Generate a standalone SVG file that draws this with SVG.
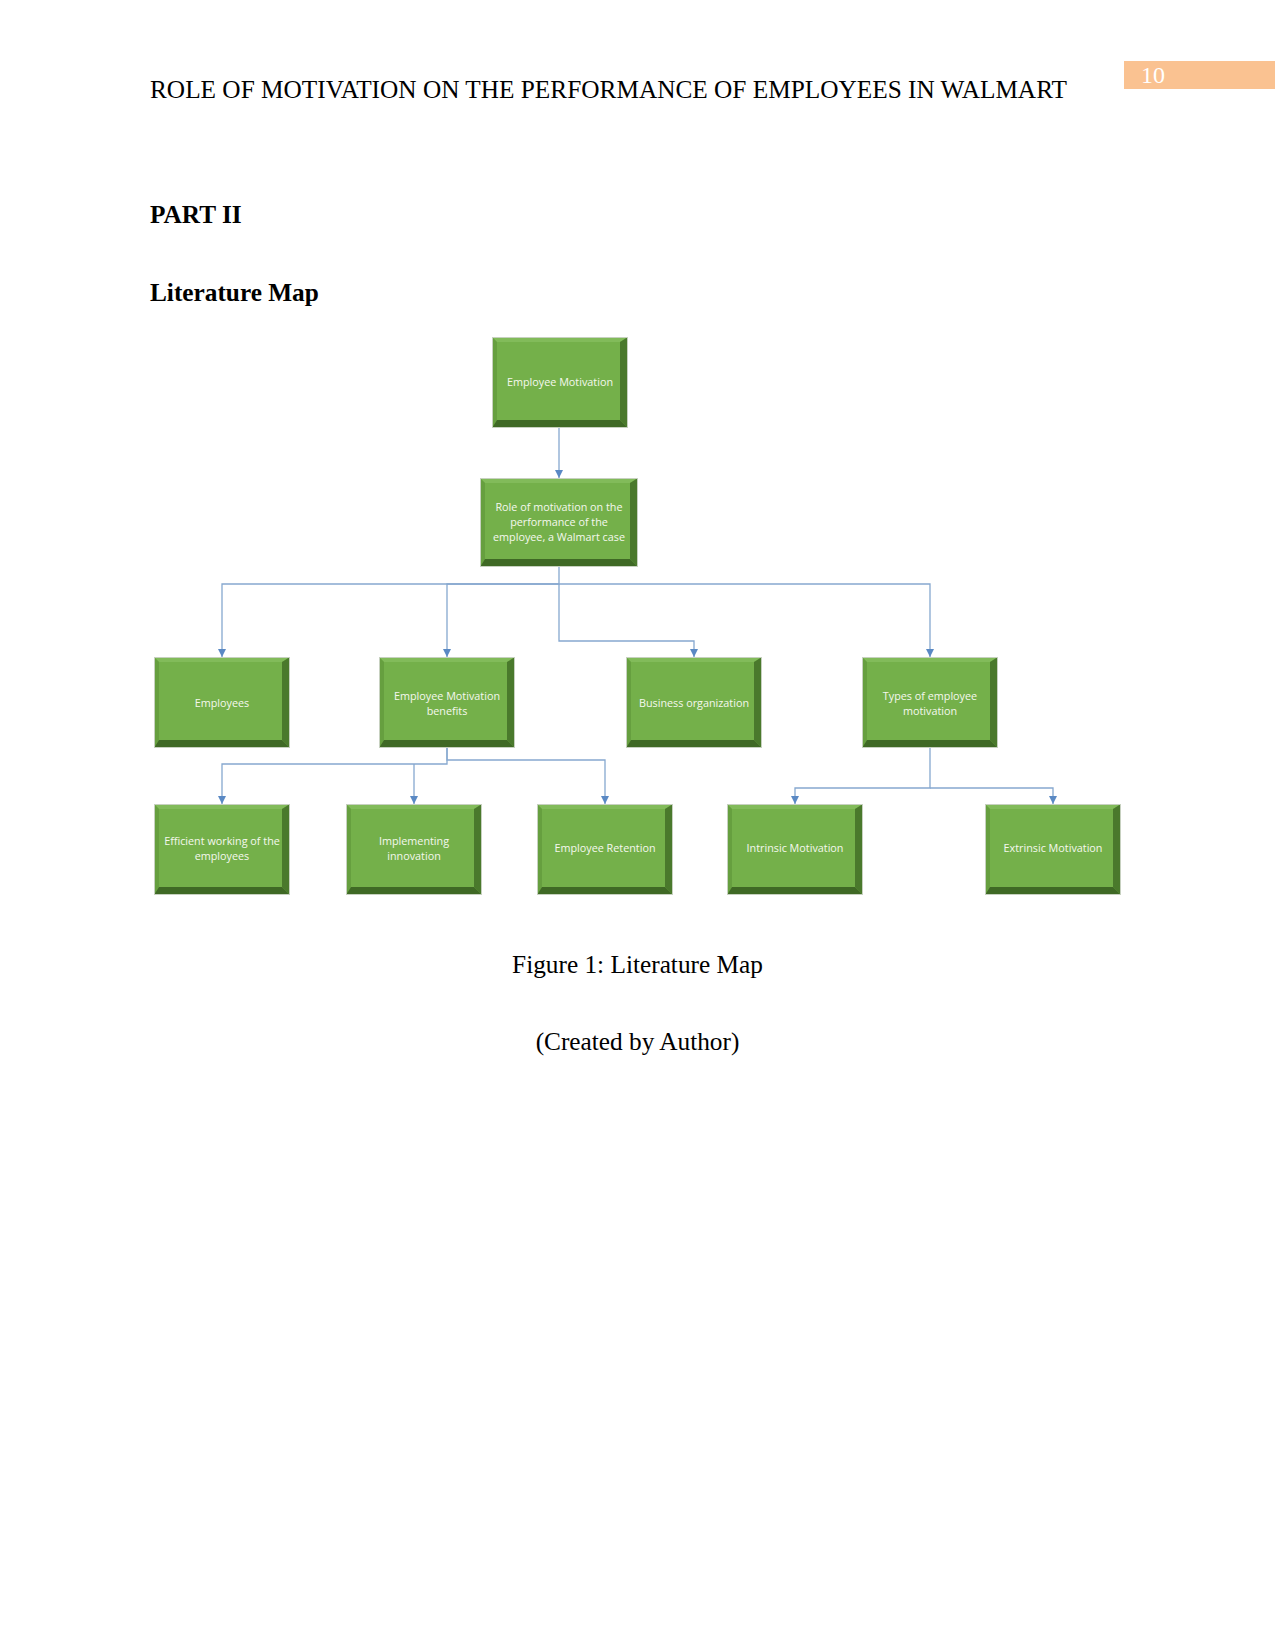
<svg xmlns="http://www.w3.org/2000/svg" xmlns:xlink="http://www.w3.org/1999/xlink" width="1275" height="1651" viewBox="0 0 1275 1651">
<style>
.hdr{font-family:"Liberation Serif","Times New Roman",serif;font-size:25.3px;fill:#000}
.bold{font-weight:bold}
.pg{font-family:"Liberation Serif","Times New Roman",serif;font-size:24px;fill:#fff}
.lbl{font-family:"Open Sans","Liberation Sans",sans-serif;font-size:10.8px;fill:#f4f8ee;text-anchor:middle}
.con{fill:none;stroke:#86a8cf;stroke-width:1.3}
.face{fill:#74b04a}
.top{fill:#82bb5a}
.left{fill:#669f3f}
.right{fill:#4a792c}
.bot{fill:#3f6925}
.rim{fill:none;stroke:#c7d1c0;stroke-width:1}
</style>
<defs>
<marker id="arr" viewBox="0 0 10 10" refX="10" refY="5" markerWidth="8" markerHeight="8" markerUnits="userSpaceOnUse" orient="auto">
<path d="M0,0 L10,5 L0,10 z" fill="#5a89c4"/>
</marker>
<symbol id="box" viewBox="0 0 136 91" width="136" height="91">
<rect class="face" x="0" y="0" width="136" height="91"/>
<polygon class="top" points="0,0 136,0 128,5 5,5"/>
<polygon class="left" points="0,0 5,5 5,83 0,91"/>
<polygon class="right" points="136,0 136,91 128,83 128,5"/>
<polygon class="bot" points="0,91 136,91 128,83 5,83"/>
<rect class="rim" x="0.5" y="0.5" width="135" height="90"/>
</symbol>
</defs>
<rect width="1275" height="1651" fill="#fff"/>

<g id="header">
<text class="hdr" x="150" y="98">ROLE OF MOTIVATION ON THE PERFORMANCE OF EMPLOYEES IN WALMART</text>
<rect x="1124" y="61" width="151" height="28" fill="#fac291"/>
<text class="pg" x="1141" y="83">10</text>
<text class="hdr bold" x="150" y="223">PART II</text>
<text class="hdr bold" x="150" y="301">Literature Map</text>
</g>

<g id="connectors">
<path class="con" d="M559,428 V478" marker-end="url(#arr)"/>
<path class="con" d="M559,567 V584 H222 V657" marker-end="url(#arr)"/>
<path class="con" d="M559,584 H447 V657" marker-end="url(#arr)"/>
<path class="con" d="M559,584 V641 H694 V657" marker-end="url(#arr)"/>
<path class="con" d="M559,584 H930 V657" marker-end="url(#arr)"/>
<path class="con" d="M447,748 V764 H222 V804" marker-end="url(#arr)"/>
<path class="con" d="M414,764 V804" marker-end="url(#arr)"/>
<path class="con" d="M447,748 V760 H605 V804" marker-end="url(#arr)"/>
<path class="con" d="M930,748 V788 H795 V804" marker-end="url(#arr)"/>
<path class="con" d="M930,788 H1053 V804" marker-end="url(#arr)"/>
</g>

<g id="node-employee-motivation">
<use xlink:href="#box" x="492" y="337"/>
<text class="lbl" x="560" y="386">Employee Motivation</text>
</g>

<g id="node-role">
<rect class="face" x="480" y="478" width="158" height="89"/>
<polygon class="top" points="480,478 638,478 630,483 485,483"/>
<polygon class="left" points="480,478 485,483 485,559 480,567"/>
<polygon class="right" points="638,478 638,567 630,559 630,483"/>
<polygon class="bot" points="480,567 638,567 630,559 485,559"/>
<rect class="rim" x="480.5" y="478.5" width="157" height="88"/>
<text class="lbl" x="559" y="511">Role of motivation on the</text>
<text class="lbl" x="559" y="526">performance of the</text>
<text class="lbl" x="559" y="541">employee, a Walmart case</text>
</g>

<g id="node-employees">
<use xlink:href="#box" x="154" y="657"/>
<text class="lbl" x="222" y="707">Employees</text>
</g>

<g id="node-emb">
<use xlink:href="#box" x="379" y="657"/>
<text class="lbl" x="447" y="700">Employee Motivation</text>
<text class="lbl" x="447" y="715">benefits</text>
</g>

<g id="node-business">
<use xlink:href="#box" x="626" y="657"/>
<text class="lbl" x="694" y="707">Business organization</text>
</g>

<g id="node-types">
<use xlink:href="#box" x="862" y="657"/>
<text class="lbl" x="930" y="700">Types of employee</text>
<text class="lbl" x="930" y="715">motivation</text>
</g>

<g id="node-efficient">
<use xlink:href="#box" x="154" y="804"/>
<text class="lbl" x="222" y="845">Efficient working of the</text>
<text class="lbl" x="222" y="860">employees</text>
</g>

<g id="node-implementing">
<use xlink:href="#box" x="346" y="804"/>
<text class="lbl" x="414" y="845">Implementing</text>
<text class="lbl" x="414" y="860">innovation</text>
</g>

<g id="node-retention">
<use xlink:href="#box" x="537" y="804"/>
<text class="lbl" x="605" y="852">Employee Retention</text>
</g>

<g id="node-intrinsic">
<use xlink:href="#box" x="727" y="804"/>
<text class="lbl" x="795" y="852">Intrinsic Motivation</text>
</g>

<g id="node-extrinsic">
<use xlink:href="#box" x="985" y="804"/>
<text class="lbl" x="1053" y="852">Extrinsic Motivation</text>
</g>

<g id="caption">
<text class="hdr" x="637.5" y="973" text-anchor="middle">Figure 1: Literature Map</text>
<text class="hdr" x="637.5" y="1050" text-anchor="middle">(Created by Author)</text>
</g>
</svg>
